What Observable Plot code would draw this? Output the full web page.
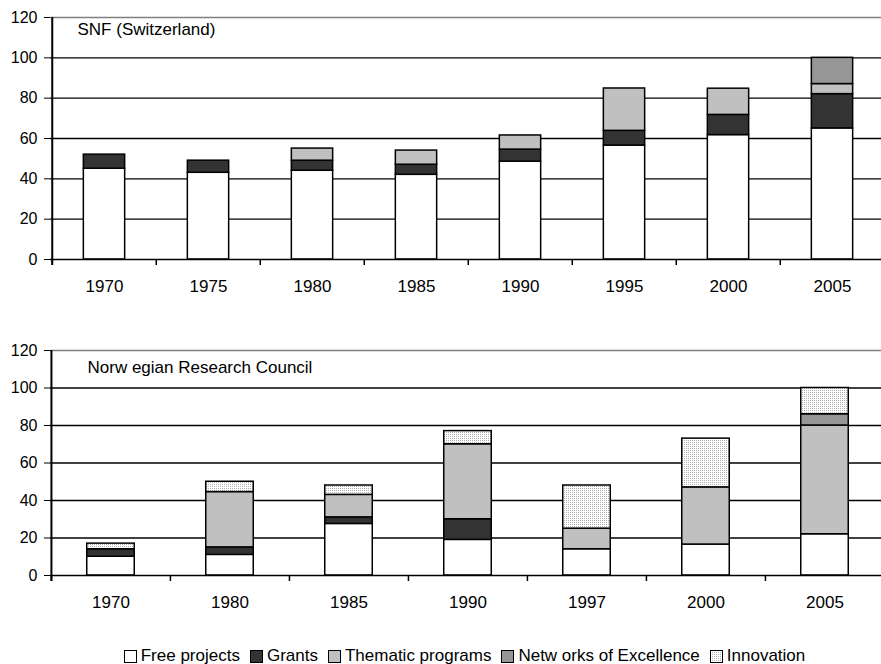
<!DOCTYPE html>
<html>
<head>
<meta charset="utf-8">
<script src="https://cdn.jsdelivr.net/npm/d3@7"></script>
<script src="https://cdn.jsdelivr.net/npm/@observablehq/plot@0.6"></script>
<style>
  html, body { margin: 0; padding: 0; background: #fff; }
  body { width: 881px; height: 664px; overflow: hidden; font-family: "Liberation Sans", Arial, sans-serif; color: #000; }
  #legend { display: flex; justify-content: center; align-items: center; font-size: 17px; height: 20px; margin-top: 26px; padding-left: 48px; white-space: pre; }
  .item { display: flex; align-items: center; margin: 0 5px; }
  .item svg { margin-right: 4px; }
  svg.plot-chart { display: block; }
</style>
</head>
<body>
<svg width="0" height="0" style="position:absolute">
  <defs>
    <pattern id="dots" width="2" height="2" patternUnits="userSpaceOnUse">
      <rect width="2" height="2" fill="#ffffff"></rect>
      <rect width="1" height="1" fill="#b0b0b0"></rect>
    </pattern>
  </defs>
</svg>
<div id="top"></div>
<div id="bottom"></div>
<div id="legend"></div>
<script>
// ---- Data ----
const series = ["Free projects", "Grants", "Thematic programs", "Netw orks of Excellence", "Innovation"];
const fills = ["#ffffff", "#333333", "#c0c0c0", "#969696", "url(#dots)"];
const yTicks = [0, 20, 40, 60, 80, 100, 120];

// SNF (Switzerland)
const snfYears      = ["1970", "1975", "1980", "1985", "1990", "1995", "2000", "2005"];
const snfFree       = [45, 43, 44, 42, 48.5, 56.5, 61.7, 65];
const snfGrants     = [7, 6, 5, 5, 6, 7.3, 10, 17];
const snfThematic   = [0, 0, 6, 7, 7, 21, 13, 5];
const snfNetworks   = [0, 0, 0, 0, 0, 0, 0, 13];
const snfInnovation = [0, 0, 0, 0, 0, 0, 0, 0];

// Norwegian Research Council
const norYears      = ["1970", "1980", "1985", "1990", "1997", "2000", "2005"];
const norFree       = [10, 11, 27.5, 19, 14, 16.5, 22];
const norGrants     = [4, 4, 3.5, 11, 0, 0, 0];
const norThematic   = [0, 29.5, 12, 40, 11, 30.5, 58];
const norNetworks   = [0, 0, 0, 0, 0, 0, 6];
const norInnovation = [3, 5.5, 5, 7, 23, 26, 14];

function rowsFor(cats, arrays) {
  const rows = [];
  cats.forEach((c, i) => {
    series.forEach((s, k) => {
      const v = arrays[k][i];
      if (v > 0) rows.push({cat: c, series: s, value: v});
    });
  });
  return rows;
}

function chart(opts) {
  const W = 881, ML = 50;
  const {cats, rows, height, marginTop, marginBottom, marginRight, title, titleDx, titleDy, barFrac} = opts;
  const step = (W - ML - marginRight) / cats.length;
  const inset = step * (1 - barFrac) / 2;
  return Plot.plot({
    width: W,
    height,
    marginTop,
    marginBottom,
    marginLeft: ML,
    marginRight,
    className: "plot-chart",
    style: {fontFamily: "Liberation Sans, Arial, sans-serif", fontSize: "16px", color: "#000", background: "#fff"},
    x: {type: "band", domain: cats, padding: 0, label: null},
    y: {domain: [0, 120], label: null},
    color: {domain: series, range: fills},
    marks: [
      Plot.ruleY(yTicks.filter(t => t > 0 && t < 120), {stroke: "#000", strokeWidth: 1.3}),
      Plot.ruleY([120], {stroke: "#808080", strokeWidth: 1.5}),
      Plot.barY(rows, {x: "cat", y: "value", fill: "series", stroke: "#000", strokeWidth: 1.5, insetLeft: inset, insetRight: inset}),
      Plot.ruleY([0], {stroke: "#000", strokeWidth: 1.5}),
      Plot.ruleX(cats, {x: d => d, y1: 0, y2: 0, insetBottom: -6, dx: -step / 2, stroke: "#000", strokeWidth: 1.5}),
      Plot.ruleX(cats.slice(0, 1), {x: d => d, y1: 120, y2: 0, insetBottom: -6, dx: -step / 2, stroke: "#000", strokeWidth: 2}),
      Plot.axisY({ticks: yTicks, tickSize: 6, tickPadding: 7, fontSize: 16, stroke: "#000", fill: "#000", label: null}),
      Plot.axisX({tickSize: 0, tickPadding: 20, fontSize: 17, fill: "#000", label: null}),
      Plot.text([title], {frameAnchor: "top-left", text: d => d, dx: titleDx, dy: titleDy, fontSize: 17, fill: "#000"})
    ]
  });
}

document.getElementById("top").appendChild(chart({
  cats: snfYears,
  rows: rowsFor(snfYears, [snfFree, snfGrants, snfThematic, snfNetworks, snfInnovation]),
  height: 300, marginTop: 17, marginBottom: 41, marginRight: -5,
  title: "SNF (Switzerland)", titleDx: 27, titleDy: 5, barFrac: 0.40
}));

document.getElementById("bottom").appendChild(chart({
  cats: norYears,
  rows: rowsFor(norYears, [norFree, norGrants, norThematic, norNetworks, norInnovation]),
  height: 320, marginTop: 50, marginBottom: 45, marginRight: -3,
  title: "Norw egian Research Council", titleDx: 37, titleDy: 10, barFrac: 0.40
}));

// Legend
const legend = document.getElementById("legend");
series.forEach((s, k) => {
  const item = document.createElement("div");
  item.className = "item";
  item.innerHTML = `<svg width="13" height="13"><rect x="0.5" y="0.5" width="12" height="12" fill="${fills[k]}" stroke="#000" stroke-width="1"></rect></svg><span>${s}</span>`;
  legend.appendChild(item);
});
</script>
</body>
</html>
